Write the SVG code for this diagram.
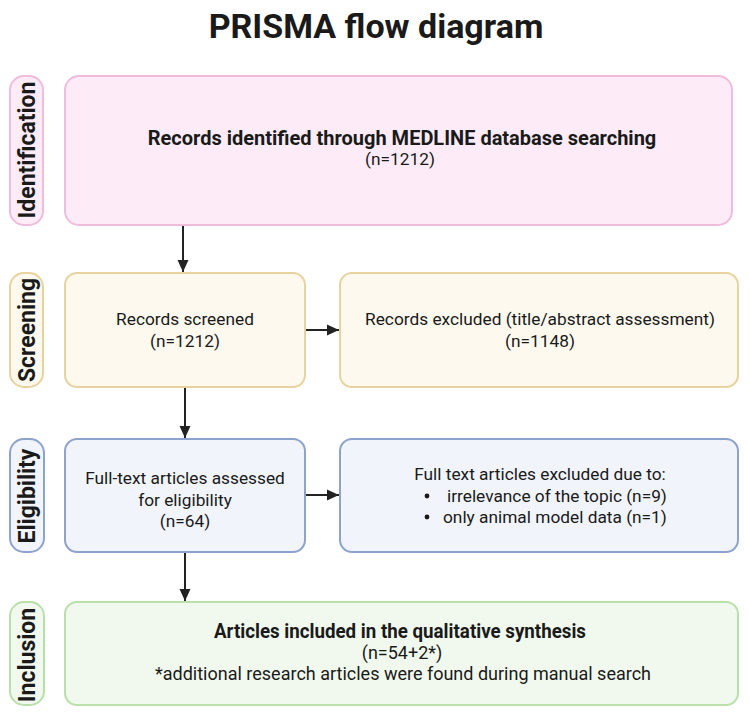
<svg xmlns="http://www.w3.org/2000/svg" width="750" height="715" viewBox="0 0 750 715">
<defs>
<marker id="ah" viewBox="0 0 12 12" refX="12" refY="6" markerWidth="12" markerHeight="12" markerUnits="userSpaceOnUse" orient="auto">
<path d="M0,0.5 L12,6 L0,11.5 z" fill="#222"/>
</marker>
</defs>
<style>
text{font-family:Roboto,"Liberation Sans",sans-serif;fill:#1a1a1a}
.t{font-size:34px;font-weight:bold;text-anchor:middle}
.side{font-size:23px;font-weight:bold;text-anchor:middle}
.b{font-size:20px;font-weight:bold;text-anchor:middle}
.r{font-size:17.3px;text-anchor:middle}
.r18{font-size:18px;text-anchor:middle}
.rl{font-size:17.3px}
.id{fill:#fdecf7;stroke:#efbcdb;stroke-width:2}
.sc{fill:#fdf9ee;stroke:#e7d39f;stroke-width:2}
.el{fill:#f1f4fb;stroke:#8ea3cb;stroke-width:2}
.in{fill:#f1f9ee;stroke:#b9e0aa;stroke-width:2}
.c{stroke:#222;stroke-width:2;fill:none}
</style>
<rect width="750" height="715" fill="#fff"/>
<text class="t" x="376" y="38">PRISMA flow diagram</text>

<g id="lbl-identification"><rect class="id" x="10" y="76" width="33" height="149" rx="14"/><text class="side" transform="translate(35,150) rotate(-90)">Identification</text></g>
<g id="lbl-screening"><rect class="sc" x="10" y="273" width="33" height="114" rx="14"/><text class="side" transform="translate(35,330) rotate(-90)">Screening</text></g>
<g id="lbl-eligibility"><rect class="el" x="10" y="439" width="34" height="113" rx="14"/><text class="side" transform="translate(35,496) rotate(-90)">Eligibility</text></g>
<g id="lbl-inclusion"><rect class="in" x="10" y="602" width="34" height="103" rx="14"/><text class="side" transform="translate(35,655) rotate(-90)">Inclusion</text></g>

<g id="identified"><rect class="id" x="65" y="76" width="667" height="149" rx="14"/>
<text class="b" x="402" y="145">Records identified through MEDLINE database searching</text>
<text class="r" x="400" y="165">(n=1212)</text></g>

<g id="screened"><rect class="sc" x="65" y="273" width="240" height="114" rx="12"/>
<text class="r" x="185" y="325">Records screened</text>
<text class="r" x="185" y="347">(n=1212)</text></g>

<g id="excluded1"><rect class="sc" x="340" y="273" width="398" height="114" rx="12"/>
<text class="r" x="540" y="325">Records excluded (title/abstract assessment)</text>
<text class="r" x="540" y="347">(n=1148)</text></g>

<g id="assessed"><rect class="el" x="65" y="439" width="240" height="113" rx="12"/>
<text class="r" x="185" y="484">Full-text articles assessed</text>
<text class="r" x="185" y="506">for eligibility</text>
<text class="r" x="185" y="527">(n=64)</text></g>

<g id="excluded2"><rect class="el" x="340" y="439" width="398" height="113" rx="12"/>
<text class="r" x="540" y="480">Full text articles excluded due to:</text>
<circle cx="427" cy="496" r="2.4" fill="#1a1a1a"/>
<text class="rl" x="447" y="502">irrelevance of the topic (n=9)</text>
<circle cx="427" cy="517" r="2.4" fill="#1a1a1a"/>
<text class="rl" x="443" y="523">only animal model data (n=1)</text></g>

<g id="included"><rect class="in" x="65" y="602" width="673" height="103" rx="12"/>
<text class="b" x="400" y="638" textLength="372" lengthAdjust="spacingAndGlyphs">Articles included in the qualitative synthesis</text>
<text class="r18" x="402" y="659">(n=54+2*)</text>
<text class="r18" x="403" y="680" textLength="496" lengthAdjust="spacingAndGlyphs">*additional research articles were found during manual search</text></g>

<g id="connectors">
<path class="c" d="M183,226 V272" marker-end="url(#ah)"/>
<path class="c" d="M185,388 V438" marker-end="url(#ah)"/>
<path class="c" d="M185,553 V601" marker-end="url(#ah)"/>
<path class="c" d="M306,330 H339" marker-end="url(#ah)"/>
<path class="c" d="M306,495 H339" marker-end="url(#ah)"/>
</g>
</svg>
